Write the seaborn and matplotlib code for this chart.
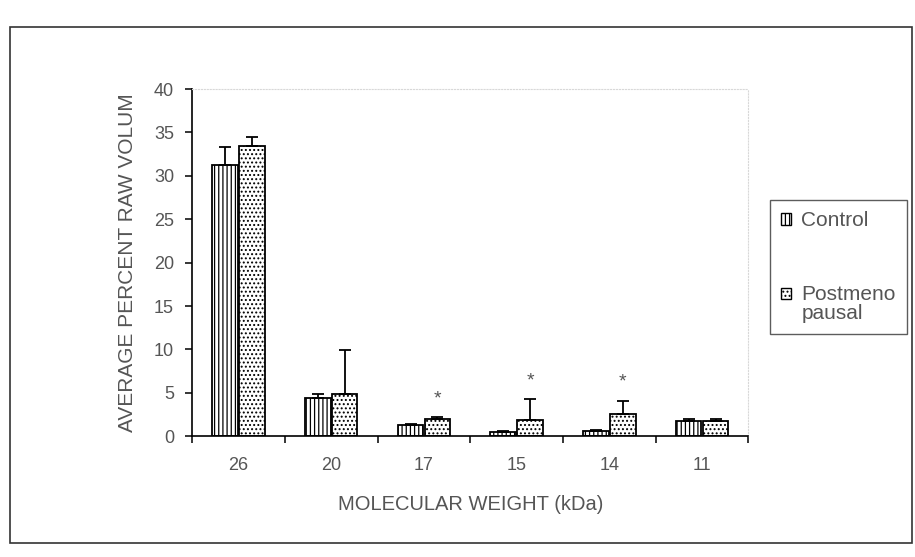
import matplotlib
matplotlib.use("Agg")
import matplotlib.pyplot as plt
from matplotlib.patches import Patch, Rectangle
from matplotlib.container import BarContainer
from matplotlib.legend_handler import HandlerPatch
import numpy as np
import pandas as pd
import seaborn as sns

# Protein band data by molecular weight
weights = ["26", "20", "17", "15", "14", "11"]
groups = ["Control", "Postmeno\npausal"]
control_mean = [31.3, 4.4, 1.3, 0.5, 0.6, 1.8]
control_err = [2.0, 0.4, 0.15, 0.1, 0.1, 0.15]
post_mean = [33.4, 4.9, 2.0, 1.9, 2.5, 1.8]
post_err = [1.1, 5.0, 0.2, 2.4, 1.6, 0.15]
significant = ["17", "15", "14"]

y_ticks = [0, 5, 10, 15, 20, 25, 30, 35, 40]

sns.set_theme(style="white")
plt.rcParams["font.family"] = ["Liberation Sans", "DejaVu Sans"]
plt.rcParams["hatch.linewidth"] = 0.9
text_color = "#555555"

df = pd.DataFrame({
    "weight": weights * 2,
    "group": [groups[0]] * len(weights) + [groups[1]] * len(weights),
    "value": control_mean + post_mean,
})

fig = plt.figure(figsize=(9.15, 5.57), dpi=100)
ax = fig.add_axes([0.21, 0.217, 0.608, 0.623])

sns.barplot(data=df, x="weight", y="value", hue="group", order=weights,
            hue_order=groups, palette=["white", "white"], edgecolor="black",
            linewidth=1.3, width=0.58, gap=0.05, errorbar=None, legend=False,
            ax=ax)

hatches = ["||||", "...."]
errs = [control_err, post_err]
means = [control_mean, post_mean]
bar_groups = [c for c in ax.containers if isinstance(c, BarContainer)]
for gi, container in enumerate(bar_groups):
    xs = []
    for bar in container:
        bar.set_hatch(hatches[gi])
        xs.append(bar.get_x() + bar.get_width() / 2)
    xs = np.array(xs)
    m = np.array(means[gi])
    e = np.array(errs[gi])
    ax.errorbar(xs, m, yerr=[np.zeros_like(e), e], fmt="none",
                ecolor="black", elinewidth=1.3, capsize=4, capthick=1.3)
    if gi == 1:
        for x, mv, ev, w in zip(xs, m, e, weights):
            if w in significant:
                ax.annotate("*", (x, mv + ev), xytext=(0, 7),
                            textcoords="offset points", ha="center",
                            va="bottom", fontsize=14, color=text_color)

ax.set_ylim(0, 40)
ax.set_xlim(-0.5, len(weights) - 0.5)
ax.set_yticks(y_ticks)
ax.set_yticklabels([str(t) for t in y_ticks])
ax.set_xticks(range(len(weights)))
ax.set_xticklabels(weights)
ax.set_xticks(np.arange(-0.5, len(weights), 1.0), minor=True)
ax.tick_params(axis="x", which="major", length=0, pad=15,
               labelsize=13, labelcolor=text_color)
ax.tick_params(axis="x", which="minor", length=5, width=1.1,
               direction="out", color="black", bottom=True)
ax.tick_params(axis="y", length=5, width=1.1, direction="out",
               color="black", left=True, labelsize=13, labelcolor=text_color,
               pad=8)

ax.set_xlabel("MOLECULAR WEIGHT (kDa)", fontsize=14.5, color=text_color,
              labelpad=15)
ax.set_ylabel("AVERAGE PERCENT RAW VOLUM", fontsize=15, color=text_color,
              labelpad=12)

for side in ["left", "bottom"]:
    ax.spines[side].set_color("black")
    ax.spines[side].set_linewidth(1.2)
for side in ["top", "right"]:
    ax.spines[side].set_color("#d8d8d8")
    ax.spines[side].set_linestyle(":")
    ax.spines[side].set_linewidth(0.8)


def top_line_patch(legend, orig_handle, xdescent, ydescent, width, height,
                   fontsize):
    # keep the swatch beside the first line of a wrapped label
    n_lines = len(orig_handle.get_label().split("\n"))
    shift = (n_lines - 1) * 0.5 * fontsize
    return Rectangle((-xdescent, -ydescent + shift), width, height)


handles = [Patch(facecolor="white", edgecolor="black", hatch=h, label=g)
           for h, g in zip(hatches, groups)]
leg = fig.legend(handles, groups, loc="upper left",
                 bbox_to_anchor=(770 / 915, 1 - 200 / 557),
                 fontsize=15, frameon=True, fancybox=False,
                 edgecolor="#333333", handlelength=0.45, handleheight=0.45,
                 handletextpad=0.5, labelspacing=2.6, borderpad=0.55,
                 borderaxespad=0,
                 handler_map={Patch: HandlerPatch(patch_func=top_line_patch)})
for t in leg.get_texts():
    t.set_color(text_color)
    t.set_linespacing(1.0)
leg.get_frame().set_linewidth(1.0)

# Outer frame around the whole chart
fig.patches.append(Rectangle((10 / 915, 1 - 543 / 557), 902 / 915, 516 / 557,
                             transform=fig.transFigure, fill=False,
                             edgecolor="#333333", linewidth=1.2))

fig.savefig("out.png", dpi=100)
